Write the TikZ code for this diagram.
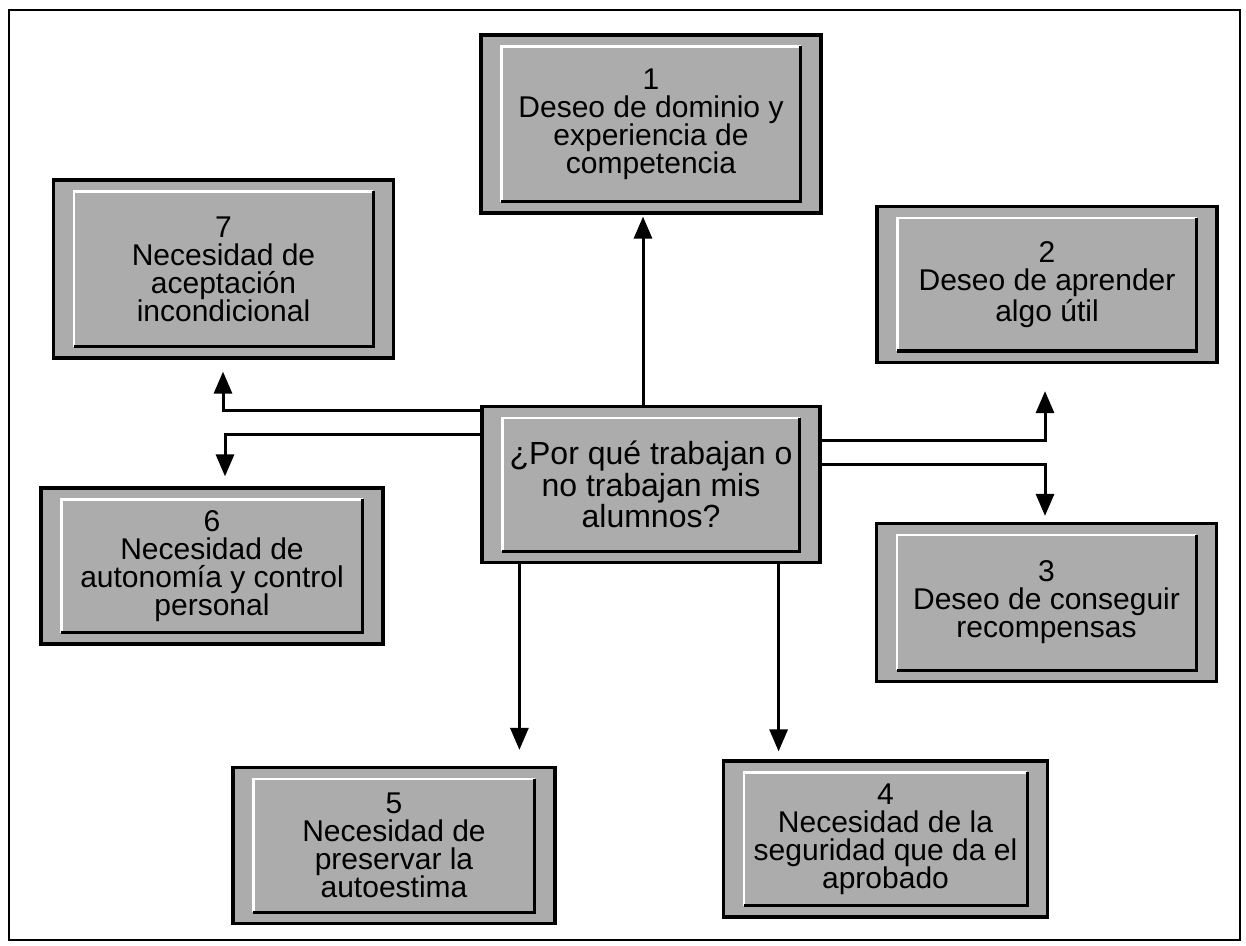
\documentclass[tikz,border=0pt]{standalone}
\usepackage{fontspec}
\setmainfont{Liberation Sans}
\usepackage{tikz}
\usetikzlibrary{calc}
\usetikzlibrary{arrows.meta}
\definecolor{trama}{RGB}{172,172,172}
\newcommand\bisel[1]{% relieve interior del recuadro
	\draw [white, line width=1.2pt] ($(#1.south west)+(22,-13)$) |- ($(#1.north east)+(-22,13)$);
	\draw [black, line width=1.6pt] ($(#1.north east)+(-22,13)$) |- ($(#1.south west)+(22,-13)$);}
\tikzset{
	motivo/.style={draw, line width=1.6pt, fill=trama, align=center, inner sep=0pt,
		minimum width=170pt, minimum height=78pt, font=\fontsize{15}{14}\selectfont},
	flecha/.style={line width=1.5pt, -{Triangle[length=11pt,width=9pt]}},
}
\begin{document}
\begin{tikzpicture}[x=0.5pt, y=-0.5pt]
            \useasboundingbox (0,0) rectangle (1246,946);
            \draw [line width=0.6pt] (9,10) rectangle (1240,940);

            \node (deseo1) at (651,124) [motivo, minimum height=89pt] {1\\Deseo de dominio y\\experiencia de\\competencia};
            \node (necesidad7) at (223.5,269) [motivo, minimum height=89pt] {7\\Necesidad de\\aceptación\\incondicional};
            \node (deseo2) at (1047,284.5) [motivo] {2\\Deseo de aprender\\algo útil};
            \node (pregunta) at (651,484.5) [motivo, minimum width=169pt, font=\fontsize{16}{14.5}\selectfont] {¿Por qué trabajan o\\no trabajan mis\\alumnos?};
            \node (necesidad6) at (212,566) [motivo, minimum width=171pt] {6\\Necesidad de\\autonomía y control\\personal};
            \node (deseo3) at (1046.5,602.5) [motivo, minimum height=79pt] {3\\Deseo de conseguir\\recompensas};
            \node (necesidad5) at (394,845.5) [motivo, minimum width=161pt] {5\\Necesidad de\\preservar la\\autoestima};
            \node (necesidad4) at (885.5,839) [motivo, minimum width=162pt] {4\\Necesidad de la\\seguridad que da el\\aprobado};

            \foreach \caja in {deseo1,necesidad7,deseo2,pregunta,necesidad6,deseo3,necesidad5,necesidad4}
                \bisel{\caja};

            \coordinate (baja5) at ($(pregunta.south west)+(39,0)$);
            \coordinate (baja4) at ($(pregunta.south east)+(-43,0)$);

            \draw [flecha] ($(pregunta.north)+(-8,0)$) -- ($(deseo1.south)+(-8,2)$);
            \draw [flecha] ($(pregunta.north west)+(0,6)$) -| ($(necesidad7.south)+(-0.5,12)$);
            \draw [flecha] ($(pregunta.north west)+(0,30)$) -| ($(necesidad6.north)+(13,-10)$);
            \draw [flecha] ($(pregunta.north east)+(0,36)$) -| ($(deseo2.south)+(-2,27)$);
            \draw [flecha] ($(pregunta.north east)+(0,60)$) -| ($(deseo3.north)+(-1.5,-6)$);
            \draw [flecha] (baja5) -- ($(baja5 |- necesidad5.north)+(0,-16)$);
            \draw [flecha] (baja4) -- ($(baja4 |- necesidad4.north)+(0,-8)$);
\end{tikzpicture}
\end{document}
